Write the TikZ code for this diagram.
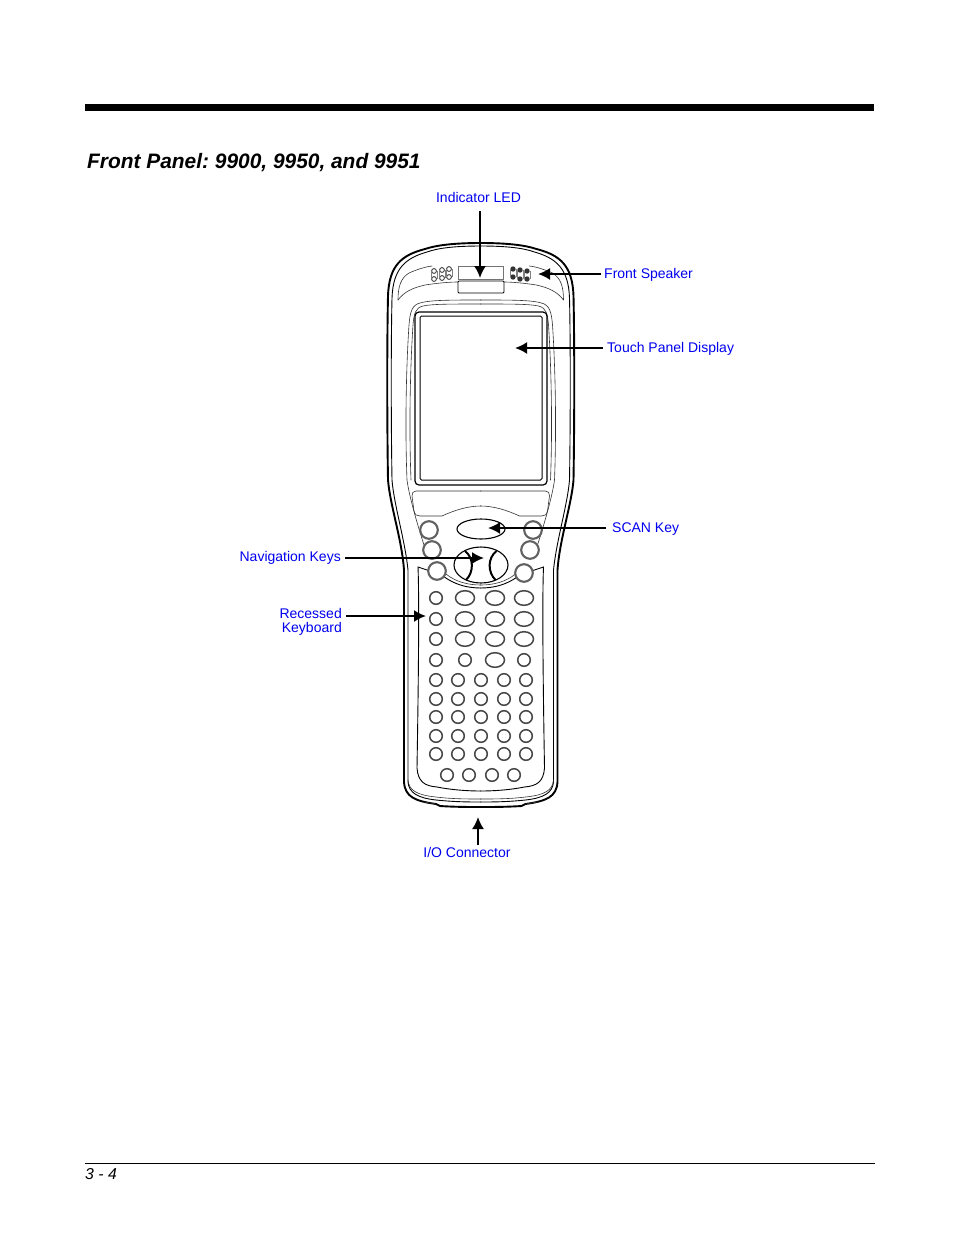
\documentclass[tikz,border=0pt]{standalone}
\usepackage{fontspec}
\setmainfont{Liberation Sans}
\usetikzlibrary{arrows.meta}
\definecolor{lbl}{RGB}{0,0,238}
\tikzset{
 lab/.style={text=lbl,font=\fontsize{14}{14}\selectfont,inner sep=0pt,align=right},
 callout/.style={line width=1.9pt,-{Latex[length=12pt,width=12pt]}},
 thick line/.style={line width=1.9pt},
 mid line/.style={line width=0.9pt,line cap=round},
 thin line/.style={line width=0.6pt,line cap=round,draw=black!80},
 keyc/.style={draw=black!72,line width=1.5pt,fill=white},
 bigkey/.style={draw=black!62,line width=2.1pt,fill=white},
}
\newcommand{\halfbody}{
 % outer shell
 \draw[thick line] (481,243) .. controls (455,243) and (437,245) .. (425,249) .. controls (402,255) and (389,265) .. (388,296)
   .. controls (387,340) and (387,420) .. (388,480) .. controls (390,505) and (402,540) .. (404,570)
   .. controls (404,640) and (404,720) .. (404,782) .. controls (405,797) and (415,801) .. (436,804) -- (440,806) .. controls (455,807) and (470,807) .. (481,807);
 \draw[mid line] (481,246) .. controls (455,246) and (438,248) .. (427,252) .. controls (406,258) and (393,268) .. (392,298)
   .. controls (391,340) and (391,420) .. (392,480) .. controls (394,505) and (405,540) .. (408,570)
   .. controls (408,640) and (408,720) .. (408,782) .. controls (409,793) and (418,798) .. (436,800) .. controls (455,802) and (470,802) .. (481,802);
 % head band
 \draw[thin line] (398,300) .. controls (398,286) and (401,278) .. (409,273) .. controls (416,270) and (424,267) .. (432,266);
 \draw[thin line] (398,300) .. controls (404,292) and (412,288) .. (425,285) .. controls (438,283) and (450,282) .. (458,282);
 % bezel
 \draw[thin line] (481,300) .. controls (450,300) and (430,300) .. (420,303) .. controls (412,305) and (410,312) .. (409,325)
   .. controls (406,370) and (405,430) .. (407,480) .. controls (409,495) and (416,520) .. (424,545);
 \draw[thin line] (481,304) .. controls (450,304) and (432,304) .. (423,306) .. controls (415,308) and (414,314) .. (413,325)
   .. controls (410,370) and (409,430) .. (411,480);
 % lens panel and arch
 \draw[thin line] (481,491) -- (416,491) .. controls (413,491) and (412,493) .. (412,496) -- (414,511) .. controls (415,515) and (417,516) .. (420,516) -- (442,516)
   .. controls (455,510) and (468,506) .. (481,506);
 % keyboard recess
 \draw[mid line] (430,571) -- (418,567) .. controls (419,590) and (419,650) .. (417,768) .. controls (418,782) and (425,786) .. (437,787) .. controls (452,790) and (468,791) .. (481,791);
 \draw[thin line] (408,780) .. controls (409,790) and (416,795) .. (436,797) .. controls (452,799) and (468,799) .. (481,799);
 % arc over keyboard
 \draw[mid line] (443,576) .. controls (455,585) and (468,588) .. (481,588);
 \draw[thin line] (481,585) .. controls (468,585) and (456,582) .. (446,574);
 % bottom bump
 \draw[thin line] (424,802) -- (436,804);
}
\begin{document}
\begin{tikzpicture}[x=1pt,y=-1pt]
\useasboundingbox[fill=white] (0,0) rectangle (954,1235);
% page furniture
\fill (85,104) rectangle (874,111);
\node[anchor=base west,inner sep=0pt,font=\fontsize{20.9}{22}\selectfont\bfseries\itshape] (title) at (87,168) {\frenchspacing Front Panel: 9900, 9950, and 9951};
\draw[line width=0.8pt] (85,1163) -- (875,1163);
\node[anchor=base west,inner sep=0pt,font=\fontsize{15.8}{16}\selectfont\itshape] (page) at (85,1179) {3 - 4};
% body
\halfbody
\begin{scope}[shift={(961.5,0)},xscale=-1]\halfbody\end{scope}
% LED window
\draw[thin line,draw=black!55] (458,266) rectangle (503,279);
\draw[line width=0.8pt,fill=white,rounded corners=1pt] (458,281) rectangle (504,293);
% speakers
\foreach \x/\y in {434/271,434/279,442/270,442/278,449/269,449/277}
  \draw[line width=0.9pt,draw=black!75] (\x,\y) circle (2.4);
\foreach \x/\a/\b in {434/271/279,442/270/278,449/269/277}
  \draw[line width=0.5pt,draw=black!50] (\x-3,\a) -- (\x-3,\b) (\x+3,\a) -- (\x+3,\b);
\foreach \x/\y in {513/269,513/277,520/270,520/279,527/271,527/279}
  \fill[black!80] (\x,\y) circle (2.7);
\foreach \x/\a/\b in {513/269/277,520/270/279,527/271/279}
  \draw[line width=0.5pt,draw=black!50] (\x-3,\a) -- (\x-3,\b) (\x+3,\a) -- (\x+3,\b);
% screen
\draw[line width=1.2pt,rounded corners=4pt] (415,312) rectangle (547,485);
\draw[line width=1pt,rounded corners=1.5pt] (420,316) rectangle (542,480);
% upper keys
\foreach \x/\y in {429/530,533/530,432/550,530/550,437/571,524/573}
  \draw[bigkey] (\x,\y) circle (8.8);
\draw[line width=1.1pt] (481,529) ellipse [x radius=24,y radius=10];
\draw[line width=1.1pt] (481,565) ellipse [x radius=27,y radius=18];
\draw[line width=2pt] (465,551) .. controls (474,558) and (474,572) .. (466,580);
\draw[line width=2pt] (496.5,551) .. controls (487.5,558) and (487.5,572) .. (495.5,580);
% keypad
\foreach \y in {598,619,639}{
  \draw[keyc] (436,\y) circle (6.3);
  \foreach \x in {465,495,524} \draw[keyc] (\x,\y) ellipse [x radius=9.5,y radius=7.3];
}
\draw[keyc] (436,660) circle (6.3);
\draw[keyc] (465,660) circle (6.3);
\draw[keyc] (495,660) ellipse [x radius=9.5,y radius=7.3];
\draw[keyc] (524,660) circle (6.3);
\foreach \y in {680,699,717,736,754}
  \foreach \x in {436,458,481,504,526} \draw[keyc] (\x,\y) circle (6.3);
\foreach \x in {447,469,492,514} \draw[keyc] (\x,775) circle (6.3);
% targets
\coordinate (tLED) at (480,278);
\coordinate (tFS) at (538,274);
\coordinate (tTP) at (515,348);
\coordinate (tSK) at (488,528);
\coordinate (tNK) at (484,558);
\coordinate (tRK) at (426,616);
\coordinate (tIO) at (478,817);
% labels
\node[lab,inner ysep=9pt] (lLED) at (478.5,197) {Indicator LED};
\node[lab,anchor=west,inner xsep=3pt] (lFS) at (601,275) {Front Speaker};
\node[lab,anchor=west,inner xsep=4pt] (lTP) at (603,349) {Touch Panel Display};
\node[lab,anchor=west,inner xsep=6pt] (lSK) at (606,529) {SCAN Key};
\node[lab,anchor=east,inner xsep=4pt] (lNK) at (345,558) {Navigation Keys};
\node[lab,anchor=east,inner xsep=4pt,font=\fontsize{14}{14}\selectfont] (lRK) at (346,622) {Recessed\\Keyboard};
\node[lab] (lIO) at (467,852) {I/O Connector};
% callouts
\draw[callout] (lLED.south -| tLED) -- (tLED);
\draw[callout] (lFS.west |- tFS) -- (tFS);
\draw[callout] (lTP.west |- tTP) -- (tTP);
\draw[callout] (lSK.west |- tSK) -- (tSK);
\draw[callout] (lNK.east |- tNK) -- (tNK);
\draw[callout] (lRK.east |- tRK) -- (tRK);
\coordinate (sIO) at (478,845);
\draw[callout] (sIO) -- (tIO);
\end{tikzpicture}
\end{document}
